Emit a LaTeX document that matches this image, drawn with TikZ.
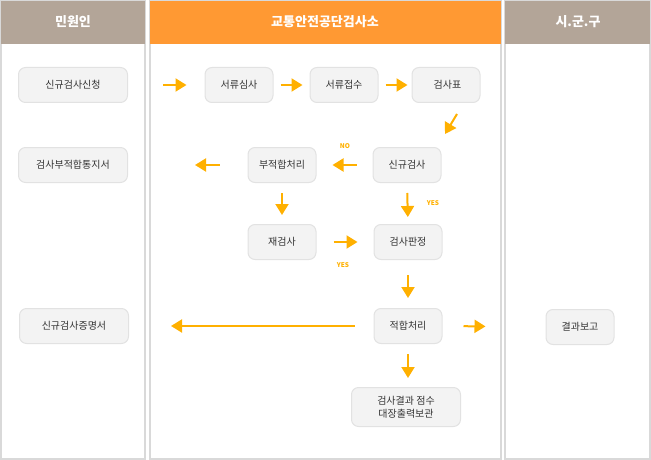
\documentclass[tikz,border=0pt]{standalone}
\usepackage{fontspec}
\setmainfont{Noto Sans CJK KR}
\usetikzlibrary{arrows.meta}
\definecolor{hgray}{HTML}{B3A598}
\definecolor{horange}{HTML}{FF9933}
\definecolor{panel}{HTML}{D9D9D9}
\definecolor{arr}{HTML}{FFB000}
\definecolor{boxline}{HTML}{E2E2E2}
\definecolor{boxfill}{HTML}{F3F3F3}
\tikzset{
 box/.style={draw=boxline,fill=boxfill,rounded corners=7pt,minimum width=68pt,minimum height=35pt,font=\fontsize{10}{13}\selectfont,text=black!80,align=center,line width=1pt},
 wide/.style={box,minimum width=109pt},
 arw/.style={draw=arr,line width=2pt,-{Triangle[length=11pt,width=13pt]}},
 lbl/.style={text=arr,font=\fontsize{6.5}{7}\selectfont\bfseries},
 head/.style={text=white,font=\fontsize{13}{15}\selectfont\bfseries}
}
\begin{document}
\begin{tikzpicture}[x=1pt,y=-1pt]
\useasboundingbox (0,0) rectangle (651,460);
\draw[panel,line width=1.5pt] (1,1) rectangle (145,459);
\draw[panel,line width=1.5pt] (150,1) rectangle (501,459);
\draw[panel,line width=1.5pt] (505,1) rectangle (650,459);
\fill[hgray] (1,1) rectangle (145,44);
\fill[horange] (150,1) rectangle (501,44);
\fill[hgray] (505,1) rectangle (650,44);
\node[head] (h1) at (73,22) {민원인};
\node[head] (h2) at (325,22) {교통안전공단검사소};
\node[head] (h3) at (578,22) {시.군.구};
\node[wide] (a1) at (73,85) {신규검사신청};
\node[wide] (a2) at (73,165) {검사부적합통지서};
\node[wide] (a3) at (74,326) {신규검사증명서};
\node[box] (b1) at (239,85) {서류심사};
\node[box] (b2) at (344,85) {서류접수};
\node[box] (b3) at (446,85) {\hspace{3pt}검사표};
\node[box] (c1) at (282,165) {부적합처리};
\node[box] (c2) at (407,165) {신규검사};
\node[box] (d1) at (282,242) {재검사};
\node[box] (d2) at (408,242) {검사판정};
\node[box] (e1) at (408,326) {적합처리};
\node[wide,minimum height=39pt] (f1) at (406,407) {검사결과 점수\\대장출력보관};
\node[box] (r1) at (580,327) {결과보고};
\draw[arw,shorten <=35pt,shorten >=18pt] (a1.east) -- (b1.west);
\draw[arw,shorten <=7pt,shorten >=7pt] (b1.east) -- (b2.west);
\draw[arw,shorten <=7pt,shorten >=4pt] (b2.east) -- (b3.west);
\coordinate (g1) at (457,114);
\draw[arw] (g1) -- (445,134);
\draw[arw,shorten <=16pt,shorten >=16pt] (c2.west) -- (c1.east);
\draw[arw,shorten <=28pt,shorten >=67pt] (c1.west) -- (a2.east);
\draw[arw,shorten <=10pt,shorten >=9pt] (c1.south) -- (d1.north);
\draw[arw,shorten <=10pt,shorten >=7pt] (c2.south) -- (d2.north);
\draw[arw,shorten <=17pt,shorten >=16pt] (d1.east) -- (d2.west);
\draw[arw,shorten <=15pt,shorten >=10pt] (d2.south) -- (e1.north);
\draw[arw,shorten <=19pt,shorten >=42pt] (e1.west) -- (a3.east);
\draw[arw,shorten <=21pt,shorten >=60pt] (e1.east) -- (r1.west);
\draw[arw,shorten <=10pt,shorten >=9pt] (e1.south) -- (f1.north -| e1.south);
\node[lbl] (n1) at (345,146) {NO};
\node[lbl] (y1) at (433,203) {YES};
\node[lbl] (y2) at (343,265) {YES};
\end{tikzpicture}
\end{document}
